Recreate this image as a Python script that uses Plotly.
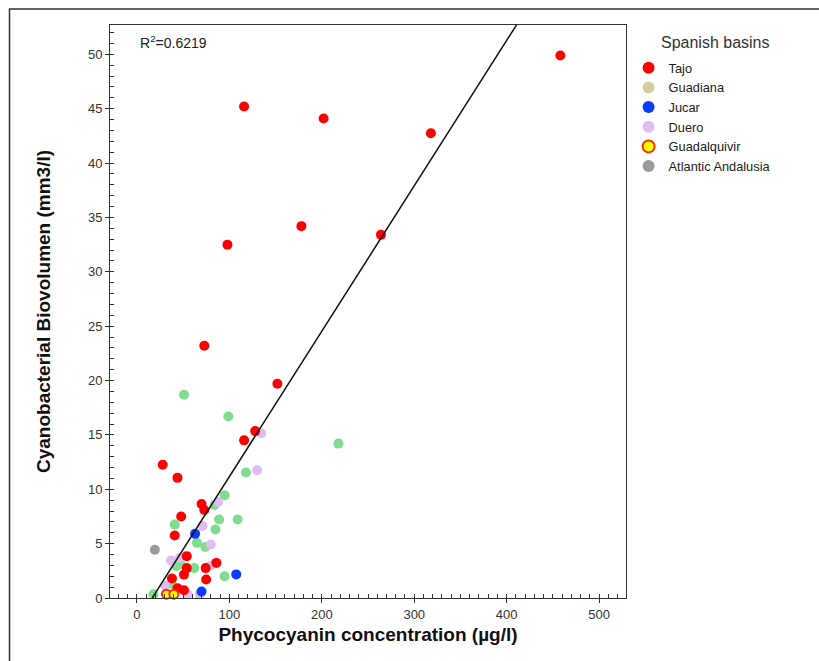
import plotly.graph_objects as go

# ---- data ----
tajo_x = [458, 116, 202, 318, 178, 98, 264, 73, 152, 128, 116, 28, 44, 70, 73, 48, 41, 54, 86, 54, 74.5, 51, 38, 75, 44, 51]
tajo_y = [49.9, 45.2, 44.1, 42.75, 34.2, 32.5, 33.4, 23.2, 19.7, 15.35, 14.5, 12.25, 11.05, 8.65, 8.1, 7.5, 5.75, 3.85, 3.23, 2.75, 2.75, 2.15, 1.8, 1.7, 0.9, 0.72]

other_x = [51, 99, 218, 118, 95, 84, 89, 109, 41, 85, 65, 74, 62, 47, 43, 95, 37.5, 18]
other_y = [18.7, 16.7, 14.2, 11.55, 9.45, 8.55, 7.22, 7.22, 6.75, 6.3, 5.07, 4.7, 2.75, 3.1, 2.95, 2.0, 1.3, 0.35]

guadiana_x = []
guadiana_y = []

jucar_x = [63, 107.5, 70]
jucar_y = [5.9, 2.17, 0.6]

duero_x = [134.5, 130, 88, 71, 80, 80, 37, 46.5, 30.5, 55, 68]
duero_y = [15.15, 11.75, 8.84, 6.63, 4.92, 3.0, 3.45, 3.7, 1.15, 0.35, 0.35]

guadalquivir_x = [32, 40]
guadalquivir_y = [0.35, 0.35]

atlantic_x = [19.5]
atlantic_y = [4.43]

# regression fit
slope = 0.1338
intercept = -2.23
fit_x = [16.7, 430]
fit_y = [slope * v + intercept for v in fit_x]

x_major = [0, 100, 200, 300, 400, 500]
y_major = [0, 5, 10, 15, 20, 25, 30, 35, 40, 45, 50]
x_range = [-29, 529]
y_range = [0, 52.7]

FONT = "Liberation Sans, Arial, sans-serif"

fig = go.Figure()

def pts(x, y, name, color, show=True, line=None, size=10):
    return go.Scatter(
        x=x if x else [None], y=y if y else [None], mode="markers", name=name,
        showlegend=show, cliponaxis=False,
        marker=dict(size=size, color=color, line=line or dict(width=0)),
    )

fig.add_trace(pts(other_x, other_y, "Other", "#80DD8F", show=False))
fig.add_trace(pts(duero_x, duero_y, "Duero", "#DDBDF2", show=False))
fig.add_trace(pts(jucar_x, jucar_y, "Jucar", "#0A3CFF", show=False))
fig.add_trace(pts(tajo_x, tajo_y, "Tajo", "#FF0000"))
fig.add_trace(pts(guadiana_x, guadiana_y, "Guadiana", "#D5CFA0"))
fig.add_trace(pts([None], [None], "Jucar", "#0A3CFF"))
fig.add_trace(pts([None], [None], "Duero", "#DDBDF2"))
fig.add_trace(pts(guadalquivir_x, guadalquivir_y, "Guadalquivir", "#FFFF00",
                  line=dict(width=2, color="#FF2A00"), size=9))
fig.add_trace(pts(atlantic_x, atlantic_y, "Atlantic Andalusia", "#9A9A9A"))

fig.add_trace(go.Scatter(x=fit_x, y=fit_y, mode="lines", showlegend=False,
                         line=dict(color="#111111", width=1.5),
                         xaxis="x2", yaxis="y2"))

axis_common = dict(showgrid=False, zeroline=False, linecolor="#333333", linewidth=1,
                   tickcolor="#333333", tickfont=dict(family=FONT, size=13, color="#333333"))

fig.update_layout(
    width=819, height=661,
    margin=dict(l=110, r=193, t=25, b=63),
    paper_bgcolor="white", plot_bgcolor="white",
    font=dict(family=FONT, color="#333333"),
    xaxis=dict(range=x_range, tickvals=x_major, ticks="outside", ticklen=4, tickwidth=1,
               minor=dict(dtick=10, tick0=0, ticks="inside", ticklen=4, tickcolor="#333333"),
               showline=True, mirror=True,
               title=dict(text="<b>Phycocyanin concentration (µg/l)</b>", standoff=7,
                          font=dict(family=FONT, size=19, color="#111111")),
               **axis_common),
    yaxis=dict(range=y_range, tickvals=y_major, ticks="outside", ticklen=4, tickwidth=1,
               minor=dict(dtick=1, tick0=0, ticks="inside", ticklen=4, tickcolor="#333333"),
               showline=True, mirror=True,
               title=dict(text="<b>Cyanobacterial Biovolumen (mm3/l)</b>", standoff=32,
                          font=dict(family=FONT, size=19, color="#111111")),
               **axis_common),
    xaxis2=dict(range=x_range, overlaying="x", anchor="y2", tickvals=x_major, ticks="inside",
                ticklen=4, showticklabels=False, showline=False, showgrid=False, zeroline=False,
                tickcolor="#333333"),
    yaxis2=dict(range=y_range, overlaying="y", anchor="x2", tickvals=y_major, ticks="inside",
                ticklen=4, showticklabels=False, showline=False, showgrid=False, zeroline=False,
                tickcolor="#333333"),
    legend=dict(x=1.005, y=(598 - 53) / 573, xanchor="left", yanchor="top",
                font=dict(family=FONT, size=12.8, color="#222222"),
                bgcolor="rgba(0,0,0,0)", itemsizing="constant"),
    annotations=[
        dict(xref="paper", yref="paper", x=0.055, y=0.99, xanchor="left", yanchor="top",
             text="R<sup>2</sup>=0.6219", showarrow=False,
             font=dict(family=FONT, size=14, color="#222222")),
        dict(xref="paper", yref="paper", x=(659 - 110) / 516, y=(598 - 42) / 573,
             xanchor="left", yanchor="middle", text="Spanish basins", showarrow=False,
             font=dict(family=FONT, size=16, color="#333333")),
    ],
    shapes=[dict(type="rect", xref="paper", yref="paper",
                 x0=(9.5 - 110) / 516, x1=2, y0=-1, y1=(598 - 9) / 573,
                 line=dict(color="#333333", width=1.5), fillcolor="rgba(0,0,0,0)", layer="below")],
)

fig.write_html("out.html")
